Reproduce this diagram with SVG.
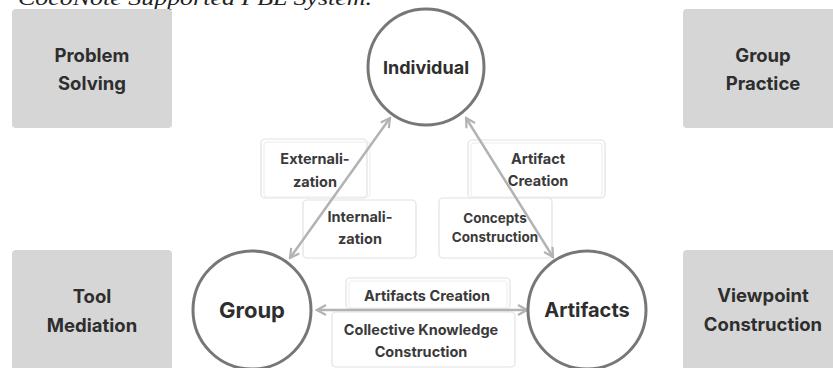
<svg xmlns="http://www.w3.org/2000/svg" width="833" height="368" viewBox="0 0 833 368">
<style>
.bg{fill:#d6d6d6;}
.bt{font-family:Inter,"Liberation Sans",sans-serif;font-weight:700;font-size:18.5px;fill:#2e2e2e;text-anchor:middle;}
.ct{font-family:Inter,"Liberation Sans",sans-serif;font-weight:700;fill:#2e2e2e;text-anchor:middle;}
.circ{fill:#fff;stroke:#777;stroke-width:3;}
.lb{fill:#fff;stroke:#e2e2e2;stroke-width:1.2;}
.lb2{fill:none;stroke:#ececec;stroke-width:1;}
.lt{font-family:Inter,"Liberation Sans",sans-serif;font-weight:700;font-size:14.5px;fill:#3a3a3a;text-anchor:middle;}
.con{stroke:#b3b3b3;stroke-width:2.5;fill:none;marker-start:url(#ah);marker-end:url(#ah);}
.title{font-family:"Liberation Serif",serif;font-style:italic;font-size:22px;fill:#222;}
</style>
<defs>
<marker id="ah" viewBox="0 0 12 12" refX="10" refY="6" markerWidth="12" markerHeight="12" markerUnits="userSpaceOnUse" orient="auto-start-reverse">
<path d="M1,1 L10,6 L1,11" fill="none" stroke="#b3b3b3" stroke-width="2.2"/>
</marker>
</defs>
<text class="title" x="18" y="5" textLength="354" lengthAdjust="spacingAndGlyphs">CocoNote Supported PBL System.</text>

<g id="problem-solving">
<rect class="bg" x="12" y="9" width="160" height="119" rx="4"/>
<text class="bt" x="92" y="62">Problem</text>
<text class="bt" x="92" y="90">Solving</text>
</g>
<g id="group-practice">
<rect class="bg" x="683" y="9" width="160" height="119" rx="4"/>
<text class="bt" x="763" y="62">Group</text>
<text class="bt" x="763" y="90">Practice</text>
</g>
<g id="tool-mediation">
<rect class="bg" x="12" y="250" width="160" height="125" rx="4"/>
<text class="bt" x="92" y="303">Tool</text>
<text class="bt" x="92" y="332">Mediation</text>
</g>
<g id="viewpoint-construction">
<rect class="bg" x="683" y="250" width="160" height="125" rx="4"/>
<text class="bt" x="763" y="302">Viewpoint</text>
<text class="bt" x="763" y="331">Construction</text>
</g>

<g id="label-externalization">
<rect class="lb" x="261" y="139" width="106" height="59" rx="4"/>
<rect class="lb2" x="264" y="142" width="106" height="55" rx="3"/>
<text class="lt" x="315" y="164">Externali-</text>
<text class="lt" x="315" y="187">zation</text>
</g>
<g id="label-internalization">
<rect class="lb" x="303" y="200" width="113" height="58" rx="4"/>
<text class="lt" x="360" y="222">Internali-</text>
<text class="lt" x="360" y="244">zation</text>
</g>
<g id="label-artifact-creation">
<rect class="lb" x="468" y="140" width="137" height="58" rx="4"/>
<rect class="lb2" x="471" y="143" width="131" height="54" rx="3"/>
<text class="lt" x="538" y="164">Artifact</text>
<text class="lt" x="538" y="186">Creation</text>
</g>
<g id="label-concepts-construction">
<rect class="lb" x="439" y="198" width="113" height="60" rx="4"/>
<text class="lt" x="495" y="223" style="font-size:13.5px">Concepts</text>
<text class="lt" x="495" y="242" style="font-size:13.5px">Construction</text>
</g>
<g id="label-artifacts-creation">
<rect class="lb" x="346" y="278" width="164" height="31" rx="4"/>
<rect class="lb2" x="349" y="281" width="158" height="27" rx="3"/>
<text class="lt" x="427" y="301">Artifacts Creation</text>
</g>
<g id="label-collective-knowledge">
<rect class="lb" x="332" y="312" width="183" height="55" rx="4"/>
<text class="lt" x="421" y="335">Collective Knowledge</text>
<text class="lt" x="421" y="357">Construction</text>
</g>

<g id="connectors">
<line class="con" x1="390" y1="118" x2="290" y2="258"/>
<line class="con" x1="466" y1="118" x2="553" y2="257"/>
<line class="con" x1="317" y1="310" x2="527" y2="310"/>
</g>

<g id="individual">
<circle class="circ" cx="426" cy="67" r="58"/>
<text class="ct" x="426" y="74" font-size="18">Individual</text>
</g>
<g id="group">
<circle class="circ" cx="252" cy="310" r="59"/>
<text class="ct" x="252" y="318" font-size="22">Group</text>
</g>
<g id="artifacts">
<circle class="circ" cx="587" cy="310" r="59"/>
<text class="ct" x="587" y="317" font-size="20">Artifacts</text>
</g>
</svg>
